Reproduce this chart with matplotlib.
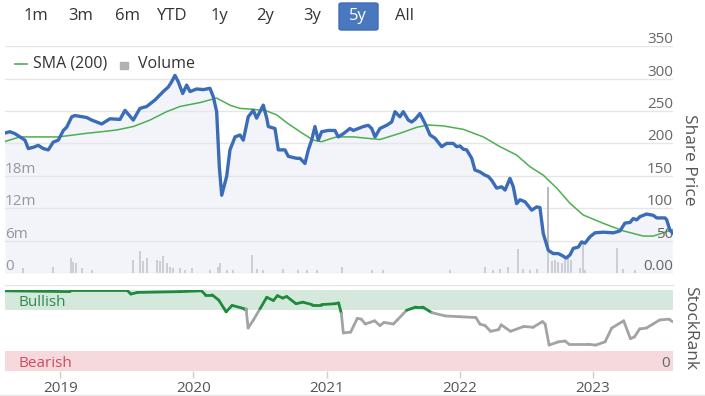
import matplotlib
matplotlib.use("Agg")
import matplotlib.pyplot as plt
import numpy as np
from matplotlib.collections import LineCollection
from matplotlib.patches import FancyBboxPatch, Rectangle
from matplotlib.lines import Line2D

plt.rcParams['font.family'] = ['Open Sans', 'DejaVu Sans']

# ---------------- data (time in decimal years) ----------------
range_buttons = ["1m", "3m", "6m", "YTD", "1y", "2y", "3y", "5y", "All"]
selected_button = "5y"

price_t = [2018.585, 2018.622, 2018.660, 2018.697, 2018.735, 2018.760, 2018.797, 2018.835, 2018.872, 2018.910,
           2018.947, 2018.985, 2019.023, 2019.048, 2019.086, 2019.110, 2019.198, 2019.236, 2019.311, 2019.373,
           2019.448, 2019.486, 2019.548, 2019.598, 2019.649, 2019.711, 2019.773, 2019.811, 2019.836, 2019.861,
           2019.886, 2019.919, 2019.949, 2019.974, 2020.024, 2020.074, 2020.124, 2020.149, 2020.174, 2020.194,
           2020.212, 2020.249, 2020.274, 2020.312, 2020.349, 2020.374, 2020.411, 2020.449, 2020.474, 2020.524,
           2020.550, 2020.562, 2020.612, 2020.637, 2020.687, 2020.712, 2020.775, 2020.800, 2020.837, 2020.862,
           2020.887, 2020.912, 2020.937, 2020.962, 2021.012, 2021.062, 2021.087, 2021.125, 2021.175, 2021.200,
           2021.275, 2021.312, 2021.338, 2021.363, 2021.400, 2021.450, 2021.488, 2021.513, 2021.550, 2021.575,
           2021.613, 2021.638, 2021.663, 2021.700, 2021.738, 2021.776, 2021.813, 2021.863, 2021.901, 2021.950,
           2021.976, 2022.001, 2022.026, 2022.051, 2022.089, 2022.113, 2022.151, 2022.188, 2022.213, 2022.239,
           2022.276, 2022.314, 2022.339, 2022.376, 2022.401, 2022.426, 2022.451, 2022.489, 2022.539, 2022.577,
           2022.601, 2022.626, 2022.664, 2022.701, 2022.739, 2022.776, 2022.797, 2022.827, 2022.851, 2022.889,
           2022.914, 2022.939, 2022.977, 2023.014, 2023.077, 2023.152, 2023.202, 2023.239, 2023.277, 2023.302,
           2023.327, 2023.352, 2023.402, 2023.452, 2023.478, 2023.540, 2023.553, 2023.577, 2023.595]
price = [216, 218, 215, 210, 205, 192, 194, 197, 192, 190,
         202, 205, 220, 225, 241, 243, 240, 236, 230, 238,
         237, 251, 236, 254, 257, 267, 280, 287, 295, 305,
         295, 277, 290, 280, 284, 283, 285, 272, 249, 164,
         120, 149, 190, 210, 213, 205, 241, 251, 239, 259,
         239, 226, 223, 190, 190, 180, 177, 177, 169, 190,
         205, 226, 205, 218, 220, 220, 210, 215, 223, 220,
         226, 228, 223, 210, 223, 228, 233, 249, 241, 249,
         236, 233, 237, 246, 231, 213, 208, 195, 200, 200,
         195, 196, 191, 190, 177, 159, 156, 151, 149, 143,
         131, 133, 128, 146, 133, 107, 113, 110, 97, 102,
         101, 61, 35, 30, 30, 26, 23, 28, 38, 40,
         48, 46, 56, 62, 63, 62, 65, 77, 78, 84,
         82, 87, 91, 89, 85, 85, 82, 66, 62]

sma_t = [2018.585, 2018.697, 2018.985, 2019.198, 2019.311, 2019.423, 2019.548, 2019.673, 2019.799, 2019.899,
         2020.049, 2020.174, 2020.274, 2020.349, 2020.449, 2020.550, 2020.625, 2020.700, 2020.800, 2020.899,
         2020.962, 2021.025, 2021.075, 2021.200, 2021.400, 2021.550, 2021.676, 2021.763, 2021.875, 2022.026,
         2022.176, 2022.301, 2022.426, 2022.526, 2022.626, 2022.727, 2022.827, 2022.926, 2023.077, 2023.227,
         2023.377, 2023.452, 2023.527, 2023.595]
sma = [203, 210, 210, 215.6, 218, 220.7, 226, 236, 249, 257,
       263, 270, 259, 254, 252.6, 250, 244, 232, 218, 205,
       202.6, 207, 210, 210, 206, 215.6, 224.8, 228.4, 227, 221.7,
       210, 195, 182, 164, 151, 131, 107.5, 89.5, 76.6, 65,
       57, 57, 62, 67]

volume_t = [2018.720, 2018.945, 2019.080, 2019.095, 2019.118, 2019.163, 2019.238, 2019.546, 2019.598, 2019.621,
            2019.651, 2019.726, 2019.749, 2019.771, 2019.801, 2019.824, 2019.846, 2019.899, 2019.936, 2019.989,
            2020.124, 2020.184, 2020.199, 2020.252, 2020.297, 2020.439, 2020.477, 2020.522, 2020.672, 2020.785,
            2020.852, 2020.927, 2021.115, 2021.340, 2021.423, 2021.926, 2022.188, 2022.248, 2022.300, 2022.361,
            2022.436, 2022.474, 2022.526, 2022.579, 2022.661, 2022.691, 2022.714, 2022.736, 2022.766, 2022.789,
            2022.812, 2022.834, 2022.902, 2022.925, 2022.940, 2023.180, 2023.225, 2023.315]
volume_m = [1.0, 1.2, 2.8, 2.0, 1.9, 1.0, 0.6, 2.5, 4.0, 2.2,
            2.8, 2.5, 2.2, 3.1, 1.9, 1.2, 1.0, 0.9, 0.6, 0.9,
            0.6, 1.2, 1.9, 0.6, 0.6, 3.4, 0.7, 0.6, 0.7, 0.6,
            0.6, 0.5, 1.2, 0.6, 0.5, 0.6, 1.2, 0.6, 0.7, 1.2,
            4.4, 0.7, 0.6, 0.7, 16.0, 2.2, 2.5, 2.0, 1.8, 2.5,
            3.1, 2.5, 0.9, 5.5, 0.6, 4.6, 0.7, 0.6]

rank_t = [2018.585, 2019.07, 2019.09, 2019.50, 2019.53, 2019.58, 2019.90, 2020.06, 2020.09, 2020.14,
          2020.19, 2020.23, 2020.245, 2020.29, 2020.38, 2020.395, 2020.41, 2020.45, 2020.50, 2020.55,
          2020.60, 2020.63, 2020.67, 2020.70, 2020.77, 2020.82, 2020.89, 2020.96, 2021.06, 2021.09,
          2021.11, 2021.125, 2021.18, 2021.23, 2021.26, 2021.29, 2021.36, 2021.40, 2021.43, 2021.50,
          2021.53, 2021.60, 2021.67, 2021.72, 2021.79, 2021.89, 2022.00, 2022.12, 2022.15, 2022.19,
          2022.23, 2022.29, 2022.31, 2022.38, 2022.48, 2022.55, 2022.62, 2022.64, 2022.67, 2022.74,
          2022.79, 2022.82, 2022.96, 2023.02, 2023.09, 2023.14, 2023.23, 2023.28, 2023.31, 2023.35,
          2023.40, 2023.45, 2023.50, 2023.57, 2023.595]
rank = [99, 98, 100, 100, 95, 97, 98, 99, 94, 94,
        87.5, 77, 73, 81, 77, 77, 53, 63, 77, 91,
        87, 93, 90, 92, 83, 85, 82, 82, 83, 84,
        71, 47, 48, 65, 64, 58, 62, 56, 60, 58,
        63, 75, 79, 79, 72, 68, 67, 66, 58, 56,
        49, 51, 57, 49, 55, 54, 61, 58, 32, 36,
        37, 33, 33, 32, 36, 53, 62, 40, 42, 52,
        53, 58, 63, 64, 61]

years = [2019, 2020, 2021, 2022, 2023]
price_ticks = [0, 50, 100, 150, 200, 250, 300, 350]
price_tick_labels = ["0.00", "50", "100", "150", "200", "250", "300", "350"]
volume_ticks = [0, 6, 12, 18]
volume_tick_labels = ["0", "6m", "12m", "18m"]
bullish_min, bearish_max = 75, 25

# ---------------- layout ----------------
W, H = 705, 396
fig = plt.figure(figsize=(W / 100, H / 100), dpi=100)
fig.patch.set_facecolor("white")

def fx(px):
    return px / W

def fy(py):
    return 1 - py / H

x0, x1 = 5, 673
xlim = (2018.585, 2023.60)
label_col = "#666666"
grid_col = "#e6e6e6"

rect_main = [fx(x0), fy(273), fx(x1 - x0), (273 - 46.2) / H]
axv = fig.add_axes(rect_main)
ax = fig.add_axes(rect_main)
ax.set_zorder(axv.get_zorder() + 1)
ax.patch.set_visible(False)

for a in (ax, axv):
    a.set_xlim(*xlim)
    for s in a.spines.values():
        s.set_visible(False)
    a.set_xticks([])
    a.set_yticks([])

ax.set_ylim(0, 350)
axv.set_ylim(0, 42)

for v in price_ticks:
    axv.axhline(v * 42 / 350, color=grid_col, lw=1, zorder=0)

axv.bar(volume_t, volume_m, width=0.011, color="#b9b9be", zorder=2, linewidth=0)

ax.fill_between(price_t, price, 0, color="#e3e8f4", alpha=0.45, lw=0, zorder=1)
ax.plot(sma_t, sma, color="#4caf50", lw=1.1, zorder=3)
ax.plot(price_t, price, color="#3b6cb7", lw=2.4, zorder=4, solid_joinstyle="round")

for v, lab in zip(price_ticks, price_tick_labels):
    ax.annotate(lab, xy=(1, v), xycoords=("axes fraction", "data"), xytext=(0, 2.2),
                textcoords="offset points", ha="right", va="baseline", fontsize=11, color=label_col)
for v, lab in zip(volume_ticks, volume_tick_labels):
    axv.annotate(lab, xy=(0, v), xycoords=("axes fraction", "data"), xytext=(0, 2.2),
                 textcoords="offset points", ha="left", va="baseline", fontsize=11, color="#555555")

fig.text(fx(689), fy(160), "Share Price", rotation=270, ha="center", va="center", fontsize=12.5, color="#555555")
fig.text(fx(690), fy(328), "StockRank", rotation=270, ha="center", va="center", fontsize=12.5, color="#555555")

# legend
fig.add_artist(Line2D([fx(15), fx(27)], [fy(64), fy(64)], color="#4caf50", lw=1.2))
fig.text(fx(33), fy(64), "SMA (200)", ha="left", va="center", fontsize=11.5, color="#333333")
fig.add_artist(Rectangle((fx(120), fy(69)), fx(8), 7.5 / H, color="#b0b0b5", transform=fig.transFigure))
fig.text(fx(138), fy(64), "Volume", ha="left", va="center", fontsize=11.5, color="#333333")

# buttons
btn_x = [35.5, 81, 127, 172, 219, 265, 312, 358, 404]
for lab, bx in zip(range_buttons, btn_x):
    if lab == selected_button:
        fig.add_artist(FancyBboxPatch((fx(339), fy(30)), fx(39), 27 / H,
                                      boxstyle="round,pad=0,rounding_size=0.004",
                                      transform=fig.transFigure, facecolor="#4a78bf", edgecolor="#3f6db5"))
        fig.text(fx(bx), fy(16.5), lab, ha="center", va="center", fontsize=12, color="white")
    else:
        fig.text(fx(bx), fy(16.5), lab, ha="center", va="center", fontsize=12, color="#333333")

# ---------------- rank panel ----------------
axr = fig.add_axes([fx(x0), fy(371), fx(x1 - x0), 81 / H])
axr.set_xlim(*xlim)
axr.set_ylim(0, 100)
for s in axr.spines.values():
    s.set_visible(False)
axr.set_yticks([])
axr.axhspan(bullish_min, 100, color="#d4e9dc", lw=0, zorder=0)
axr.axhspan(0, bearish_max, color="#f5d9dc", lw=0, zorder=0)
axr.annotate("Bullish", xy=(0.02, (bullish_min + 100) / 2), xycoords=("axes fraction", "data"),
             xytext=(0, -2), textcoords="offset points", ha="left", va="center", fontsize=11, color="#2e8b4f")
axr.annotate("Bearish", xy=(0.02, bearish_max / 2), xycoords=("axes fraction", "data"),
             xytext=(0, -2), textcoords="offset points", ha="left", va="center", fontsize=11, color="#d24a5e")
axr.annotate("0", xy=(0.995, bearish_max / 2), xycoords=("axes fraction", "data"),
             xytext=(0, -2), textcoords="offset points", ha="right", va="center", fontsize=11, color=label_col)

pts = np.column_stack([rank_t, rank])
segs = np.stack([pts[:-1], pts[1:]], axis=1)
rk = np.array(rank, dtype=float)
mid = (rk[:-1] + rk[1:]) / 2
cols = ["#1f8a3c" if m >= 74 else "#a3a3a3" for m in mid]
axr.add_collection(LineCollection(segs, colors=cols, linewidths=2.0, capstyle="round", joinstyle="round", zorder=3))

axr.set_xticks(years)
axr.set_xticklabels([str(y) for y in years])
axr.tick_params(axis="x", length=5, width=1, color="#d0d0d0", labelsize=11, labelcolor="#555555", pad=2.5)

fig.add_artist(Line2D([fx(x0), fx(x1)], [fy(285), fy(285)], color=grid_col, lw=1))
fig.add_artist(Line2D([0, 1], [fy(395), fy(395)], color=grid_col, lw=1))

fig.savefig("out.png", dpi=100)
